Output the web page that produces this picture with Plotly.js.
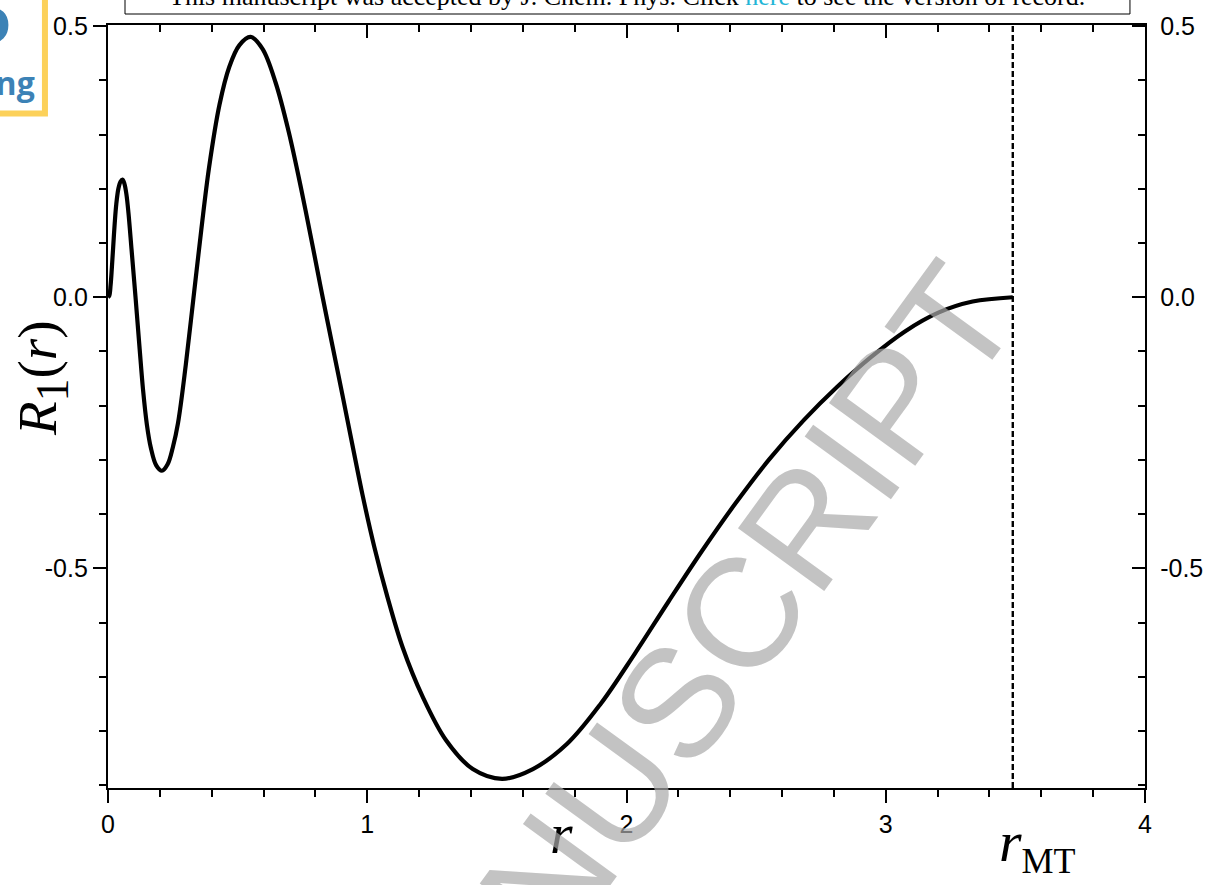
<!DOCTYPE html>
<html>
<head>
<meta charset="utf-8">
<script src="https://cdn.plot.ly/plotly-3.0.1.min.js"></script>
<style>
  html, body { margin: 0; padding: 0; background: #fff; }
  #chart { width: 1214px; height: 885px; }
</style>
</head>
<body>
<div id="chart"></div>
<script>
// ---- data ----
const r = [0, 0.005, 0.01, 0.015, 0.02, 0.026, 0.032, 0.04, 0.048, 0.056,
  0.063, 0.071, 0.079, 0.091, 0.107, 0.122, 0.135, 0.15, 0.165, 0.186,
  0.208, 0.23, 0.25, 0.27, 0.3, 0.33, 0.36, 0.39, 0.43, 0.468,
  0.507, 0.55, 0.596, 0.647, 0.697, 0.745, 0.79, 0.828, 0.866, 0.905,
  0.943, 0.982, 1.027, 1.078, 1.136, 1.214, 1.304, 1.407, 1.52, 1.639,
  1.77, 1.9, 2.031, 2.161, 2.291, 2.422, 2.552, 2.683, 2.813, 2.944,
  3.074, 3.205, 3.335, 3.49];
const R1 = [0, 0.003, 0.022, 0.055, 0.093, 0.137, 0.172, 0.2, 0.213, 0.217,
  0.21, 0.19, 0.155, 0.087, -0.005, -0.095, -0.17, -0.235, -0.277, -0.31,
  -0.32, -0.308, -0.277, -0.232, -0.125, 0, 0.125, 0.24, 0.355, 0.425,
  0.465, 0.48, 0.458, 0.395, 0.305, 0.2, 0.093, 0, -0.09, -0.182,
  -0.273, -0.365, -0.46, -0.553, -0.645, -0.737, -0.817, -0.87, -0.888, -0.87,
  -0.824, -0.75, -0.658, -0.562, -0.468, -0.379, -0.298, -0.227, -0.165, -0.11,
  -0.063, -0.028, -0.008, 0];
const rMT = 3.49;
const xRange = [0, 4];
const yRange = [-0.905, 0.502];
const xTickVals = [0, 1, 2, 3, 4];
const xTickText = ['0', '1', '2', '3', '4'];
const yTickVals = [-0.5, 0, 0.5];
const yTickText = ['-0.5', '0.0', '0.5'];

const sans = 'Liberation Sans, Arial, sans-serif';
const serif = 'Liberation Serif, Times New Roman, serif';

const traces = [
  { x: r, y: R1, type: 'scatter', mode: 'lines',
    line: { color: '#000', width: 4.2, shape: 'spline', smoothing: 1 },
    hoverinfo: 'skip', showlegend: false },
  { x: [rMT, rMT], y: yRange, type: 'scatter', mode: 'lines',
    line: { color: '#000', width: 2.4, dash: '6px,3px' },
    hoverinfo: 'skip', showlegend: false },
  { x: [null], y: [null], xaxis: 'x2', yaxis: 'y2', type: 'scatter', mode: 'lines',
    showlegend: false, hoverinfo: 'skip' }
];

const axBase = {
  showgrid: false, zeroline: false, showline: true, linecolor: '#000', linewidth: 2.2,
  tickcolor: '#000', tickwidth: 2, ticklen: 13,
  tickfont: { family: sans, size: 25, color: '#000' }
};

const layout = {
  width: 1214, height: 885,
  margin: { l: 108, r: 69, t: 25, b: 97, pad: 0 },
  paper_bgcolor: '#fff', plot_bgcolor: '#fff',
  showlegend: false,
  xaxis: Object.assign({}, axBase, {
    range: xRange, tickmode: 'array', tickvals: xTickVals, ticktext: xTickText,
    ticks: 'outside', side: 'bottom', anchor: 'y',
    minor: { dtick: 0.2, tick0: 0, ticks: 'outside', ticklen: 7, tickwidth: 2, tickcolor: '#000', showgrid: false }
  }),
  yaxis: Object.assign({}, axBase, {
    range: yRange, tickmode: 'array', tickvals: yTickVals, ticktext: yTickText,
    ticks: 'outside', side: 'left', anchor: 'x',
    minor: { dtick: 0.1, tick0: 0, ticks: 'outside', ticklen: 7, tickwidth: 2, tickcolor: '#000', showgrid: false }
  }),
  xaxis2: Object.assign({}, axBase, {
    range: xRange, matches: 'x', overlaying: 'x', side: 'top', anchor: 'y2',
    tickmode: 'array', tickvals: xTickVals, showticklabels: false, ticks: 'inside',
    minor: { dtick: 0.2, tick0: 0, ticks: 'inside', ticklen: 7, tickwidth: 2, tickcolor: '#000', showgrid: false }
  }),
  yaxis2: Object.assign({}, axBase, {
    range: yRange, matches: 'y', overlaying: 'y', side: 'right', anchor: 'x2',
    tickmode: 'array', tickvals: yTickVals, ticktext: yTickText, ticks: 'inside',
    ticklabelstandoff: 8,
    minor: { dtick: 0.1, tick0: 0, ticks: 'inside', ticklen: 7, tickwidth: 2, tickcolor: '#000', showgrid: false }
  }),
  shapes: [
    { type: 'rect', xref: 'paper', yref: 'paper', x0: 0.0164, x1: 0.9855, y0: 1.0144, y1: 1.08,
      line: { color: '#000', width: 1 }, fillcolor: '#fff', layer: 'above' },
    { type: 'rect', xref: 'paper', yref: 'paper', x0: -0.2, x1: -0.0608, y0: 0.884, y1: 1.08,
      line: { color: '#FCD15A', width: 6 }, fillcolor: '#fff', layer: 'above' }
  ],
  annotations: [
    { xref: 'paper', yref: 'paper', x: -0.0636, y: 0.5373, xanchor: 'center', yanchor: 'middle',
      text: '<i>R</i><sub><span style="font-size:46px">1</span></sub>(<i>r</i>)', textangle: -90, showarrow: false,
      font: { family: serif, size: 55, color: '#000' } },
    { xref: 'paper', yref: 'paper', x: 0.437, y: -0.06, xanchor: 'center', yanchor: 'middle',
      text: '<i>r</i>', showarrow: false, font: { family: serif, size: 58, color: '#000' } },
    { xref: 'paper', yref: 'paper', x: 0.857, y: -0.075, xanchor: 'left', yanchor: 'middle',
      text: '<i>r</i><sub><span style="font-size:36px">MT</span></sub>', showarrow: false, font: { family: serif, size: 58, color: '#000' } },
    { xref: 'paper', yref: 'paper', x: 0.5, y: 1.0375, xanchor: 'center', yanchor: 'middle',
      text: 'This manuscript was accepted by J. Chem. Phys. Click <span style="color:#22b5d6">here</span> to see the version of record.',
      showarrow: false, font: { family: serif, size: 26, color: '#000' } },
    { xref: 'paper', yref: 'paper', x: -0.0685, y: 0.9245, xanchor: 'right', yanchor: 'middle',
      text: '<b>Publishing</b>', showarrow: false, font: { family: 'Open Sans, sans-serif', size: 32, color: '#3C82B6' } },
    { xref: 'paper', yref: 'paper', x: -0.0906, y: 0.9895, xanchor: 'right', yanchor: 'middle',
      text: '<b>AIP</b>', showarrow: false, font: { family: 'Open Sans, sans-serif', size: 80, color: '#3C82B6' } },
    { xref: 'paper', yref: 'paper', x: 0.3, y: -0.353, xanchor: 'center', yanchor: 'middle',
      text: 'ACCEPTED MANUSCRIPT', textangle: -54, showarrow: false,
      font: { family: sans, size: 155, color: 'rgba(170,170,170,0.7)' } }
  ]
};

Plotly.newPlot('chart', traces, layout, { displayModeBar: false, staticPlot: true });
</script>
</body>
</html>
